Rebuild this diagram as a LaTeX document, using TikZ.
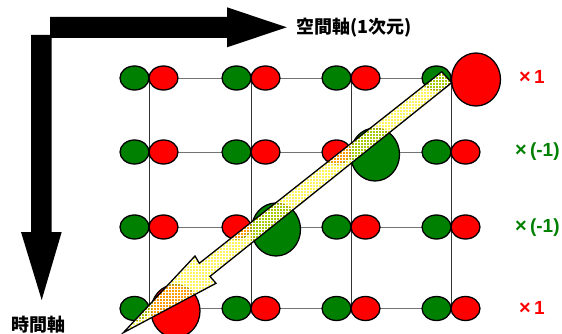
\documentclass[tikz,border=0pt]{standalone}
\usepackage{fontspec}
\setmainfont{Liberation Sans}
\newfontfamily\cjk{Noto Sans CJK JP}
\usetikzlibrary{shapes.geometric,patterns}
\definecolor{dgreen}{RGB}{0,128,0}
\newcommand{\tms}{{\fontsize{20}{20}\selectfont ×}}
\begin{document}
\begin{tikzpicture}[x=1pt,y=-1pt,
  sm/.style={ellipse,draw=black,line width=1.3pt,inner sep=0pt,minimum width=29pt,minimum height=24pt},
  big/.style={ellipse,draw=black,line width=1.3pt,inner sep=0pt,minimum width=49pt,minimum height=53pt},
  gr/.style={fill=dgreen},
  rd/.style={fill=red},
  vline/.style={draw=black!80,line width=0.6pt},
  hline/.style={draw=black!55,line width=0.9pt},
  axisfill/.style={fill=black},
  lab/.style={font=\bfseries\fontsize{19}{19}\selectfont,inner sep=0pt},
  cjklab/.style={font=\cjk\bfseries\fontsize{18}{18}\selectfont}
]
\useasboundingbox (0,0) rectangle (562,334);

% grid coordinates
\foreach \i/\x in {1/149,2/251,3/351,4/451}{
  \foreach \j/\y in {1/78,2/152,3/227,4/308.5}{
    \coordinate (g\i\j) at (\x,\y);
  }
}
% grid lines
\foreach \i in {1,2,3,4}{ \draw[vline] (g\i1) -- (g\i4); }
\foreach \j in {1,2,3,4}{ \draw[hline] (g1\j) -- (g4\j); }

% small pairs
\foreach \i/\j in {1/1,2/1,3/1, 1/2,2/2,4/2, 1/3,3/3,4/3, 2/4,3/4,4/4}{
  \node[sm,gr] (sg\i\j) at ([xshift=-14.5pt]g\i\j) {};
  \node[sm,rd] (sr\i\j) at ([xshift=14.5pt]g\i\j) {};
}
% special positions
\node[sm,gr] (sg41) at ([xshift=-14.5pt]g41) {};
\node[big,rd] (b41) at (476,79.5) {};
\node[sm,rd] (sr32) at ([xshift=-14.5pt]g32) {};
\node[big,gr] (b32) at (375,154.5) {};
\node[sm,rd] (sr23) at ([xshift=-14.5pt]g23) {};
\node[big,gr] (b23) at (276,229.5) {};
\node[sm,gr] (sg14) at ([xshift=-14.5pt]g14) {};
\node[big,rd] (b14) at (175.5,311) {};

% yellow arrow
\coordinate (ya) at (441.7,71.7);
\coordinate (yb) at (451.7,82.7);
\coordinate (yc) at (210,276.4);
\coordinate (yd) at (216,283.3);
\coordinate (ye) at (123.3,332.7);
\coordinate (yf) at (195,256);
\coordinate (yg) at (199.3,263.3);
\fill[yellow,fill opacity=0.65] (ya)--(yb)--(yc)--(yd)--(ye)--(yf)--(yg)--cycle;
\fill[pattern=grid,pattern color=white,fill opacity=0.25] (ya)--(yb)--(yc)--(yd)--(ye)--(yf)--(yg)--cycle;
\draw[line width=1.3pt,line join=miter] (ya)--(yb)--(yc)--(yd)--(ye)--(yf)--(yg)--cycle;

% axes arrows
\fill[axisfill] (50,17) -- (227,17) -- (227,7.3) -- (286.7,27.3) -- (227,47.3) -- (227,38) -- (50,38) -- cycle;
\fill[axisfill] (31,35) -- (51.7,35) -- (51.7,232) -- (61.7,232) -- (41.7,300) -- (21,232) -- (31,232) -- cycle;

% labels
\node[cjklab,anchor=west,inner sep=0pt] (space) at (296,28) {空間軸(1次元)};
\node[cjklab,inner sep=0pt] (time) at (39,325) {時間軸};
\node[lab,text=red,anchor=west] (m1) at (519,77) {\tms\,1};
\node[lab,text=dgreen,anchor=west] (m2) at (515,152) {\tms\,(-1)};
\node[lab,text=dgreen,anchor=west] (m3) at (515,228) {\tms\,(-1)};
\node[lab,text=red,anchor=west] (m4) at (519,308) {\tms\,1};
\end{tikzpicture}
\end{document}
